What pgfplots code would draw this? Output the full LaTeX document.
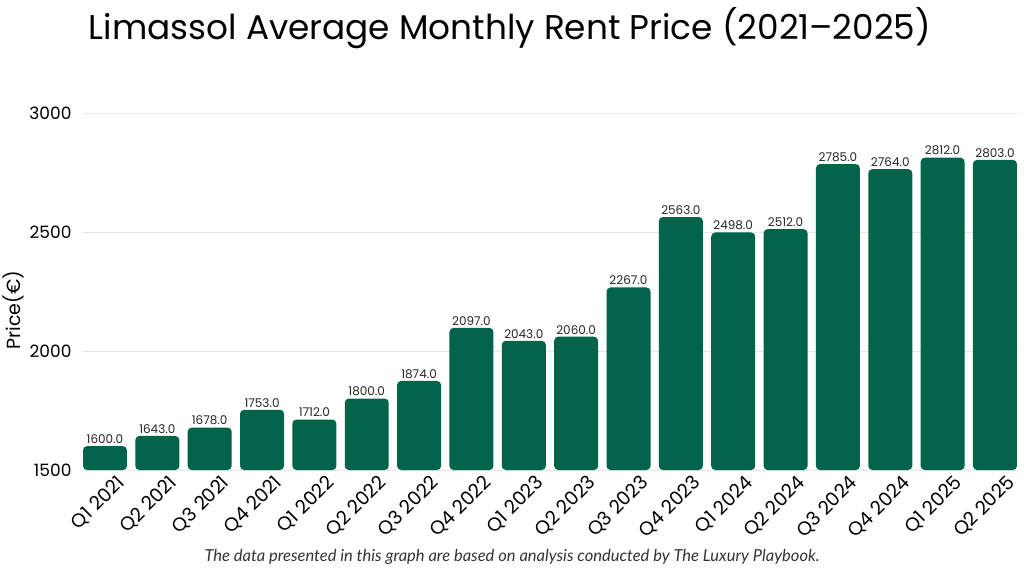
\documentclass[border=0pt]{standalone}
\usepackage{fontspec}
\setmainfont{Poppins}
\newfontfamily\notefont{Lato}
\usepackage{pgfplots}
\pgfplotsset{compat=1.18}
\definecolor{bargreen}{HTML}{02634B}
\definecolor{gridgray}{HTML}{E6E6E6}
\begin{document}
\begin{tikzpicture}[x=1pt,y=1pt]
\useasboundingbox (0,0) rectangle (1024,576);
\begin{axis}[
  at={(83pt,106pt)}, anchor=south west,
  width=935pt, height=357pt, scale only axis,
  ymin=1500, ymax=3000,
  xmin=-0.42, xmax=17.44,
  axis line style={draw=none},
  ytick={1500,2000,2500,3000},
  ymajorgrids, grid style={gridgray, line width=0.8pt},
  tick style={draw=none},
  xtick={0,...,17},
  xticklabels={Q1 2021,Q2 2021,Q3 2021,Q4 2021,Q1 2022,Q2 2022,Q3 2022,Q4 2022,Q1 2023,Q2 2023,Q3 2023,Q4 2023,Q1 2024,Q2 2024,Q3 2024,Q4 2024,Q1 2025,Q2 2025},
  x tick label style={rotate=45, anchor=north east, font=\fontsize{19}{19}\selectfont, xshift=9pt, yshift=-6pt, inner sep=1pt},
  y tick label style={font=\fontsize{17}{17}\selectfont, xshift=-8pt},
  /pgf/number format/assume math mode=true,
  yticklabel style={/pgf/number format/1000 sep={}},
  scaled y ticks=false,
  ybar, bar width=0.84,
  nodes near coords,
  every node near coord/.append style={font=\fontsize{12}{12}\selectfont, color=black!85, yshift=-1pt,
    /pgf/number format/fixed, /pgf/number format/precision=1, /pgf/number format/zerofill, /pgf/number format/1000 sep={}, /pgf/number format/assume math mode=true},
  axis on top=false,
]
\addplot[draw=none, fill=bargreen, rounded corners=4pt] coordinates {
(0,1600) (1,1643) (2,1678) (3,1753) (4,1712) (5,1800) (6,1874) (7,2097) (8,2043)
(9,2060) (10,2267) (11,2563) (12,2498) (13,2512) (14,2785) (15,2764) (16,2812) (17,2803)};
\end{axis}
\node[font=\fontsize{34.3}{34.3}\selectfont] at (510,548) {Limassol Average Monthly Rent Price (2021–2025)};
\node[font=\fontsize{19}{19}\selectfont, rotate=90] at (13,266) {Price(€)};
\node[font=\notefont\itshape\fontsize{16.5}{16.5}\selectfont, color=black!80] at (512,19) {The data presented in this graph are based on analysis conducted by The Luxury Playbook.};
\end{tikzpicture}
\end{document}
